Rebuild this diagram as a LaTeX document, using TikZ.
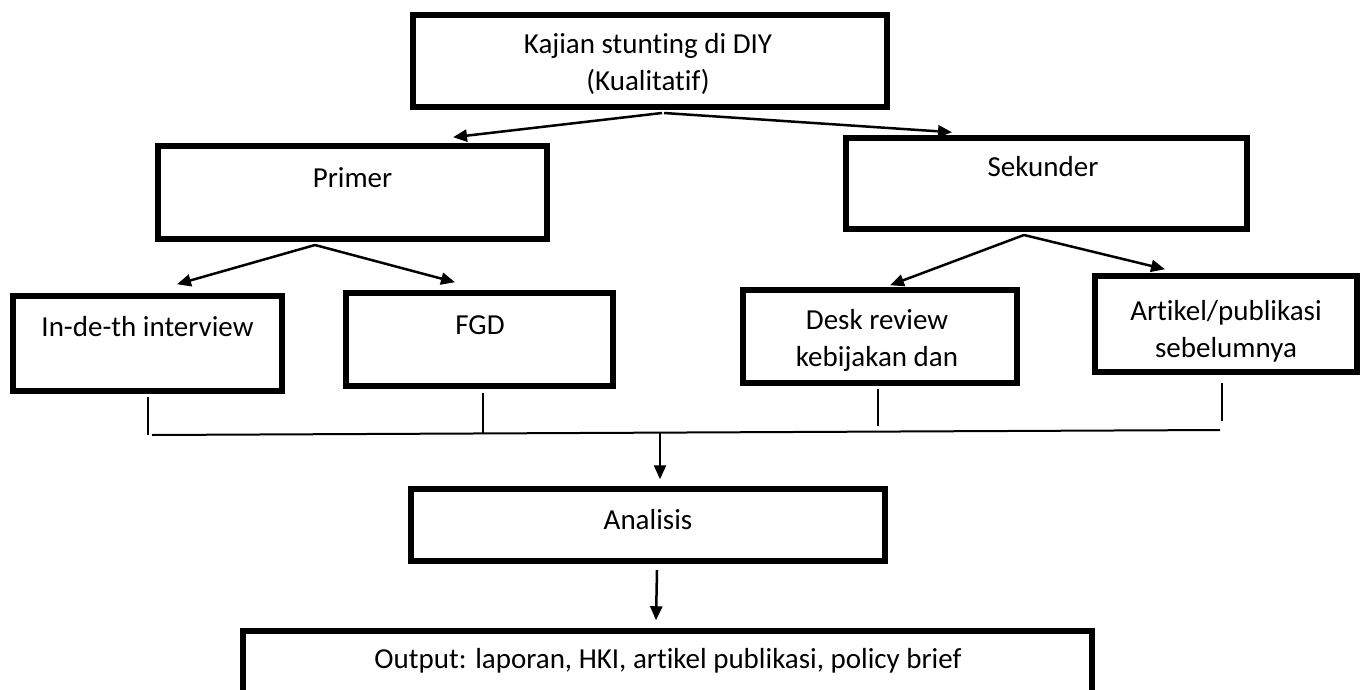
\documentclass[tikz,border=0pt]{standalone}
\usepackage{fontspec}
\setmainfont{Carlito}[Ligatures=NoCommon]
\usetikzlibrary{arrows.meta}
\begin{document}
\begin{tikzpicture}[x=1pt,y=-1pt,
  box/.style={draw=black, line width=6pt, inner sep=0pt, fill=white},
  lbl/.style={font=\fontsize{29}{37}\selectfont, align=center, inner sep=0pt},
  arr/.style={line width=2.5pt, -{Triangle[length=14pt,width=12pt]}},
  thin/.style={line width=1.6pt}]
\useasboundingbox (0,0) rectangle (1367,690);
\clip (0,0) rectangle (1367,690);
\fill[white] (0,0) rectangle (1367,690);
% boxes
\node[box, minimum width=474pt, minimum height=92pt] (top) at (650,61) {};
\node[box, minimum width=389pt, minimum height=93pt] (primer) at (352.5,192.5) {};
\node[box, minimum width=401pt, minimum height=91pt] (sekunder) at (1046.5,183.5) {};
\node[box, minimum width=269pt, minimum height=95pt] (indepth) at (147.5,343.5) {};
\node[box, minimum width=267pt, minimum height=93pt] (fgd) at (479.5,339.5) {};
\node[box, minimum width=274pt, minimum height=93pt] (desk) at (880,336.5) {};
\node[box, minimum width=262pt, minimum height=96pt] (artikel) at (1226,324) {};
\node[box, minimum width=474pt, minimum height=72pt] (analisis) at (648,525) {};
\node[box, minimum width=849pt, minimum height=86pt] (output) at (667.5,674) {};
% texts
\node[lbl] (topT) at (648,64) {Kajian stunting di DIY\\(Kualitatif)};
\node[lbl] (primerT) at (352.5,178) {Primer};
\node[lbl] (sekunderT) at (1043,167) {Sekunder};
\node[lbl] (indepthT) at (147.5,327) {In-de-th interview};
\node[lbl] (fgdT) at (480,325) {FGD};
\node[lbl] (deskT) at (877,340) {Desk review\\kebijakan dan};
\node[lbl] (artikelT) at (1226,331) {Artikel/publikasi\\sebelumnya};
\node[lbl] (analisisT) at (648,520) {Analisis};
\node[lbl] (outputT) at (668,661) {Output: laporan, HKI, artikel publikasi, policy brief};
% arrows level 1
\draw[arr] ([xshift=12pt,yshift=-3pt]top.south) -- ([xshift=100.5pt,yshift=5.75pt]primer.north);
\draw[arr] ([xshift=14pt,yshift=-3pt]top.south) -- ([xshift=-94.5pt,yshift=2.75pt]sekunder.north);
% arrows level 2
\draw[arr] ([xshift=-37.5pt,yshift=-3pt]primer.south) -- ([xshift=29.5pt,yshift=8.75pt]indepth.north);
\draw[arr] ([xshift=-37.5pt,yshift=-3pt]primer.south) -- ([xshift=-24.5pt,yshift=7.75pt]fgd.north);
\draw[arr] ([xshift=-22.5pt,yshift=-3pt]sekunder.south) -- ([xshift=10pt,yshift=1.75pt]desk.north);
\draw[arr] ([xshift=-22.5pt,yshift=-3pt]sekunder.south) -- ([xshift=-61pt,yshift=3.75pt]artikel.north);
% ticks
\draw[thin] ([xshift=0.5pt,yshift=-3pt]indepth.south) -- ++(0,38);
\draw[thin] ([xshift=3.5pt,yshift=-4pt]fgd.south) -- ++(0,40);
\draw[thin] ([xshift=-2pt,yshift=-3pt]desk.south) -- ++(0,37);
\draw[thin] ([xshift=-4pt,yshift=-8pt]artikel.south) -- ++(0,38);
% horizontal collector
\coordinate (hL) at (152,435);
\coordinate (hR) at (1220,430);
\coordinate (hM) at (660,433);
\draw[line width=2pt] (hL) -- (hR);
\draw[arr] (hM) -- ([xshift=12pt,yshift=6.75pt]analisis.north);
% analisis to output
\draw[arr] ([xshift=9pt,yshift=-6pt]analisis.south) -- ([xshift=-11.5pt,yshift=7.75pt]output.north);
\end{tikzpicture}
\end{document}
